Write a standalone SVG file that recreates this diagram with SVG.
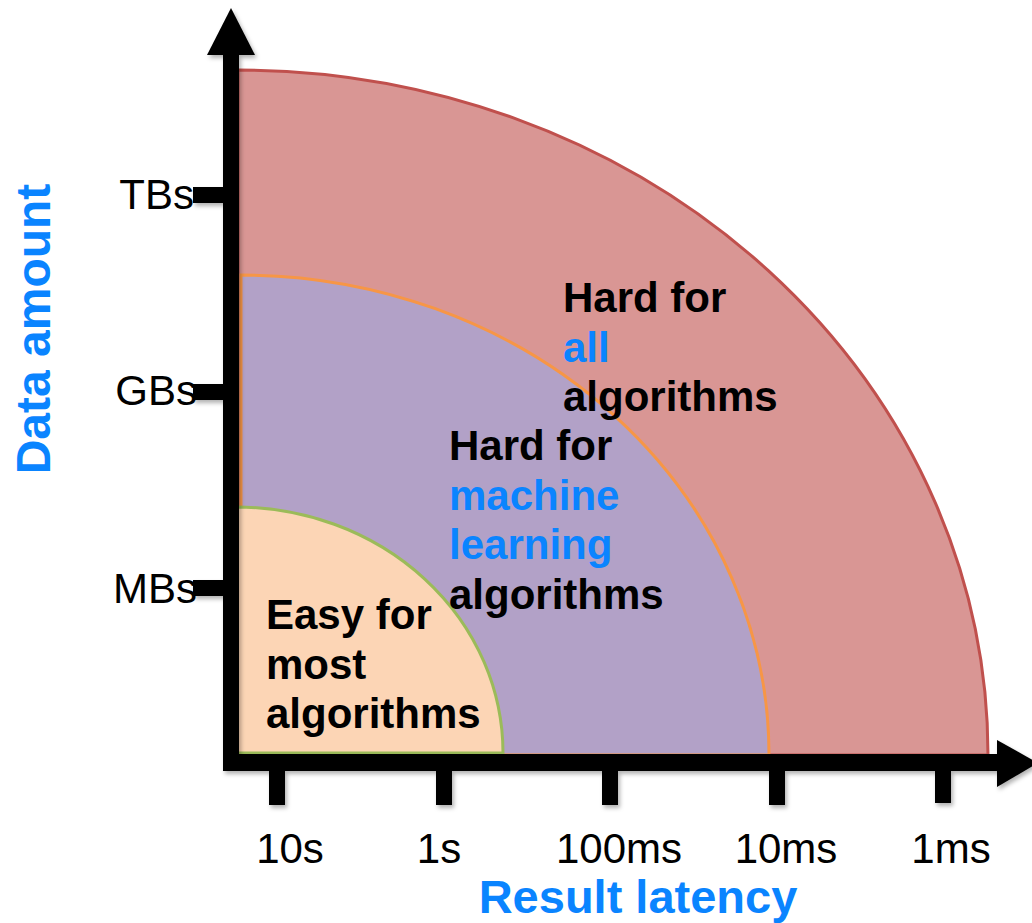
<svg xmlns="http://www.w3.org/2000/svg" width="1032" height="923" viewBox="0 0 1032 923">
  <style>
    .zone-label { font-family: "Liberation Sans", Arial, Helvetica, sans-serif; font-weight: bold; font-size: 42px; fill: #000000; }
    .zone-label .accent { fill: #0a84ff; }
    .tick-label { font-family: "Liberation Sans", Arial, Helvetica, sans-serif; font-size: 42px; fill: #000000; }
    .axis-title { font-family: "Liberation Sans", Arial, Helvetica, sans-serif; font-weight: bold; font-size: 48px; fill: #0a84ff; }
    .axis { fill: #000000; }
  </style>
  <defs>
    <filter id="soft-shadow" x="-10%" y="-10%" width="120%" height="120%">
      <feDropShadow dx="2" dy="3" stdDeviation="2" flood-color="#000000" flood-opacity="0.3"/>
    </filter>
  </defs>

  <rect width="1032" height="923" fill="#ffffff"/>

  <!-- Difficulty zones: quarter ellipses anchored at the origin -->
  <g id="zone-all">
    <path d="M238,755 L238,70 A750,685 0 0 1 988,755 Z" fill="#d99694" stroke="#c0504d" stroke-width="3"/>
  </g>
  <g id="zone-ml">
    <path d="M241,755 L241,275 A528,480 0 0 1 769,755 Z" fill="#b2a1c7" stroke="#f79646" stroke-width="3"/>
  </g>
  <g id="zone-easy">
    <path d="M236,753 L236,507 A267,246 0 0 1 503,753 Z" fill="#fcd5b5" stroke="#9bbb59" stroke-width="3"/>
  </g>

  <!-- Axes, arrowheads and tick marks -->
  <g id="connectors" class="axis" filter="url(#soft-shadow)">
    <rect x="223" y="52" width="16" height="719"/>
    <polygon points="231,8 207,55 255,55"/>
    <rect x="223" y="754" width="777" height="17"/>
    <polygon points="997,740 1038,763 997,787"/>
    <rect x="193" y="187" width="32" height="16"/>
    <rect x="193" y="384" width="32" height="16"/>
    <rect x="193" y="580" width="32" height="16"/>
    <rect x="269" y="769" width="16" height="36"/>
    <rect x="436" y="769" width="16" height="36"/>
    <rect x="602" y="769" width="16" height="36"/>
    <rect x="769" y="769" width="16" height="36"/>
    <rect x="935" y="769" width="16" height="34"/>
  </g>

  <!-- Zone captions -->
  <g id="caption-all">
    <text class="zone-label" x="563" y="312">Hard for</text>
    <text class="zone-label" x="563" y="362"><tspan class="accent">all</tspan></text>
    <text class="zone-label" x="563" y="411">algorithms</text>
  </g>
  <g id="caption-ml">
    <text class="zone-label" x="449" y="460">Hard for</text>
    <text class="zone-label" x="449" y="510"><tspan class="accent">machine</tspan></text>
    <text class="zone-label" x="449" y="559"><tspan class="accent">learning</tspan></text>
    <text class="zone-label" x="449" y="609">algorithms</text>
  </g>
  <g id="caption-easy">
    <text class="zone-label" x="266" y="629">Easy for</text>
    <text class="zone-label" x="266" y="679">most</text>
    <text class="zone-label" x="266" y="728">algorithms</text>
  </g>

  <!-- Y axis tick labels -->
  <g id="y-ticks">
    <text class="tick-label" x="194" y="209" text-anchor="end">TBs</text>
    <text class="tick-label" x="197" y="405" text-anchor="end">GBs</text>
    <text class="tick-label" x="197" y="603" text-anchor="end">MBs</text>
  </g>

  <!-- X axis tick labels -->
  <g id="x-ticks">
    <text class="tick-label" x="290" y="863" text-anchor="middle">10s</text>
    <text class="tick-label" x="439" y="863" text-anchor="middle">1s</text>
    <text class="tick-label" x="619" y="863" text-anchor="middle">100ms</text>
    <text class="tick-label" x="786" y="863" text-anchor="middle">10ms</text>
    <text class="tick-label" x="951" y="863" text-anchor="middle">1ms</text>
  </g>

  <!-- Axis titles -->
  <g id="axis-titles">
    <text class="axis-title" transform="translate(50,329) rotate(-90)" text-anchor="middle">Data amount</text>
    <text class="axis-title" x="638" y="913" text-anchor="middle" style="font-size:47px">Result latency</text>
  </g>
</svg>
